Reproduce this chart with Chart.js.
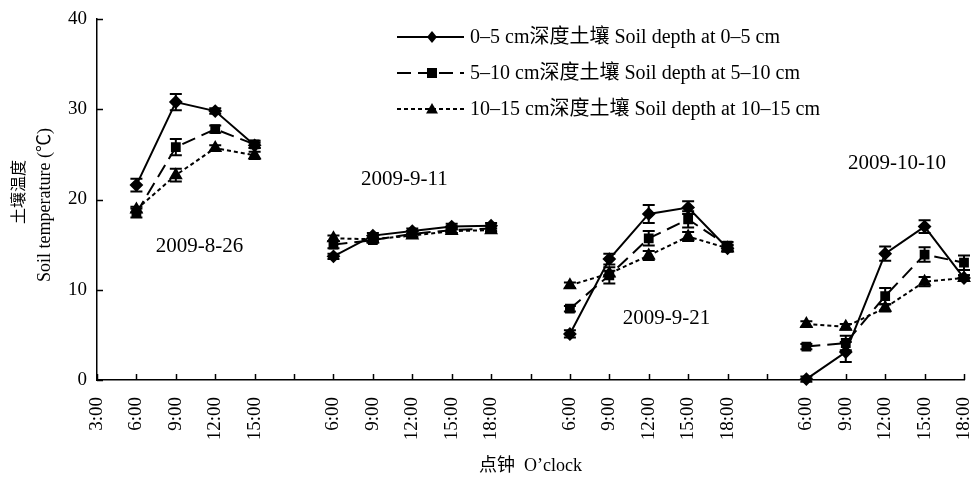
<!DOCTYPE html>
<html>
<head>
<meta charset="utf-8">
<script src="https://cdn.jsdelivr.net/npm/chart.js@4/dist/chart.umd.min.js"></script>
<style>
  body { margin: 0; background: #fff; }
  #wrap { width: 972px; height: 480px; }
</style>
</head>
<body>
<div id="wrap"><canvas id="grafica" width="972" height="480"></canvas></div>
<script>
// x categories, blanks separate the four sampling days
var horas = ['3:00', '6:00', '9:00', '12:00', '15:00', '',
    '6:00', '9:00', '12:00', '15:00', '18:00', '',
    '6:00', '9:00', '12:00', '15:00', '18:00', '',
    '6:00', '9:00', '12:00', '15:00', '18:00']

var fechas = ['2009-8-26', '2009-9-11', '2009-9-21', '2009-10-10']
var yTicks = [0, 10, 20, 30, 40]

var prof0a5 = [null, 21.6, 30.8, 29.8, 26.0, null, 13.7, 16.0, 16.5, 17.0, 17.1, null, 5.1, 13.4, 18.4, 19.1, 14.6, null, 0.1, 3.1, 14.0, 17.0, 11.3]
var err0a5 = [null, 0.7, 0.9, 0.3, 0.3, null, 0.3, 0.3, 0.3, 0.3, 0.3, null, 0.4, 0.6, 1.0, 0.7, 0.4, null, 0.3, 1.1, 0.8, 0.7, 0.3]

var prof5a10 = [null, 18.5, 25.8, 27.8, 26.1, null, 15.0, 15.5, 16.2, 16.6, 16.8, null, 7.9, 11.6, 15.7, 17.8, 14.9, null, 3.7, 4.1, 9.3, 13.9, 13.0]
var err5a10 = [null, 0.5, 0.9, 0.4, 0.4, null, 0.4, 0.3, 0.3, 0.3, 0.3, null, 0.3, 0.9, 0.8, 0.9, 0.4, null, 0.3, 0.8, 0.9, 0.8, 0.8]

var prof10a15 = [null, 18.9, 22.7, 25.7, 24.9, null, 15.7, 15.6, 16.0, 16.5, 16.6, null, 10.5, 11.8, 13.8, 15.9, 14.6, null, 6.2, 5.9, 8.0, 10.9, 11.3]
var err10a15 = [null, 0.3, 0.7, 0.3, 0.4, null, 0.3, 0.2, 0.2, 0.2, 0.2, null, 0.3, 0.3, 0.5, 0.5, 0.3, null, 0.3, 0.3, 0.4, 0.5, 0.3]

var nombresSeries = ['0–5 cm深度土壤 Soil depth at 0–5 cm', '5–10 cm深度土壤 Soil depth at 5–10 cm', '10–15 cm深度土壤 Soil depth at 10–15 cm']

var serif = "'Liberation Serif', 'Noto Sans CJK SC', serif"
var errores = [err0a5, err5a10, err10a15]

// where the day labels sit (category index, temperature)
var posFechas = [[2.6, 14.8], [7.8, 22.2], [14.45, 6.8], [20.3, 24.0]]

function marca(ctx, estilo, x, y) {
    ctx.beginPath()
    if (estilo == 'rectRot') {
        ctx.moveTo(x, y - 6); ctx.lineTo(x + 5, y); ctx.lineTo(x, y + 6); ctx.lineTo(x - 5, y)
    } else if (estilo == 'rect') {
        ctx.rect(x - 5, y - 5, 10, 10)
    } else {
        ctx.moveTo(x, y - 6); ctx.lineTo(x + 6, y + 4.5); ctx.lineTo(x - 6, y + 4.5)
    }
    ctx.closePath()
    ctx.fill()
}

var extras = {
    id: 'extras',
    afterDatasetsDraw: function (chart) {
        var ctx = chart.ctx
        var xs = chart.scales.x
        var ys = chart.scales.y
        var area = chart.chartArea
        ctx.save()
        ctx.strokeStyle = '#000'
        ctx.fillStyle = '#000'

        // error bars
        ctx.lineWidth = 2
        chart.data.datasets.forEach(function (ds, d) {
            ds.data.forEach(function (v, i) {
                if (v == null) return
                var x = xs.getPixelForValue(i)
                var y1 = ys.getPixelForValue(v + errores[d][i])
                var y2 = ys.getPixelForValue(v - errores[d][i])
                ctx.beginPath()
                ctx.moveTo(x, y1); ctx.lineTo(x, y2)
                ctx.moveTo(x - 6, y1); ctx.lineTo(x + 6, y1)
                ctx.moveTo(x - 6, y2); ctx.lineTo(x + 6, y2)
                ctx.stroke()
            })
        })

        // inward tick marks
        ctx.lineWidth = 1.5
        ctx.beginPath()
        for (var i = 0; i < horas.length; i++) {
            var tx = Math.round(xs.getPixelForValue(i)) + 0.5
            ctx.moveTo(tx, area.bottom); ctx.lineTo(tx, area.bottom - 6)
        }
        yTicks.forEach(function (t) {
            var ty = Math.round(ys.getPixelForValue(t)) + 0.5
            ctx.moveTo(area.left, ty); ctx.lineTo(area.left + 6, ty)
        })
        ctx.stroke()

        // day labels
        ctx.font = '21px ' + serif
        ctx.textAlign = 'center'
        ctx.textBaseline = 'middle'
        fechas.forEach(function (f, k) {
            ctx.fillText(f, xs.getPixelForValue(posFechas[k][0]), ys.getPixelForValue(posFechas[k][1]))
        })

        // legend
        var filas = [37, 73, 109]
        ctx.font = '20px ' + serif
        ctx.textAlign = 'left'
        chart.data.datasets.forEach(function (ds, d) {
            var y = filas[d]
            ctx.lineWidth = 2
            ctx.setLineDash(ds.borderDash || [])
            ctx.beginPath()
            ctx.moveTo(397, y); ctx.lineTo(464, y)
            ctx.stroke()
            ctx.setLineDash([])
            marca(ctx, ds.pointStyle, 432, y)
            ctx.fillText(nombresSeries[d], 470, y + 1)
        })

        // y axis title, two lines
        ctx.save()
        ctx.translate(18, 192)
        ctx.rotate(-Math.PI / 2)
        ctx.font = "16px 'Noto Sans CJK SC'"
        ctx.textAlign = 'center'
        ctx.fillText('土壤温度', 0, 0)
        ctx.restore()
        ctx.save()
        ctx.translate(45, 205)
        ctx.rotate(-Math.PI / 2)
        ctx.font = '18px ' + serif
        ctx.textAlign = 'center'
        ctx.fillText('Soil temperature (℃)', 0, 0)
        ctx.restore()

        ctx.restore()
    }
}

var data = {
    labels: horas,
    datasets: [{
        label: nombresSeries[0],
        data: prof0a5,
        borderColor: '#000',
        backgroundColor: '#000',
        borderWidth: 2,
        pointStyle: 'rectRot',
        pointRadius: 5.5
    }, {
        label: nombresSeries[1],
        data: prof5a10,
        borderColor: '#000',
        backgroundColor: '#000',
        borderWidth: 2,
        borderDash: [14, 7],
        pointStyle: 'rect',
        pointRadius: 5.5
    }, {
        label: nombresSeries[2],
        data: prof10a15,
        borderColor: '#000',
        backgroundColor: '#000',
        borderWidth: 2,
        borderDash: [4, 3],
        pointStyle: 'triangle',
        pointRadius: 6
    }]
}

new Chart(document.getElementById('grafica').getContext('2d'), {
    type: 'line',
    data: data,
    plugins: [extras],
    options: {
        responsive: false,
        animation: false,
        spanGaps: false,
        clip: false,
        layout: { padding: { left: 0, right: 7, top: 19, bottom: 0 } },
        plugins: { legend: { display: false }, tooltip: { enabled: false } },
        scales: {
            x: {
                offset: false,
                grid: { display: false, drawTicks: false },
                border: { color: '#000', width: 1.5 },
                ticks: {
                    autoSkip: false, maxRotation: 90, minRotation: 90, padding: 17,
                    color: '#000', font: { family: serif, size: 19 }
                },
                title: {
                    display: true, text: '点钟  O’clock', color: '#000',
                    font: { family: serif, size: 18 }, padding: { top: 0, bottom: 3 }
                },
                afterFit: function (s) { s.height = 100; s.paddingLeft = 0; s.paddingRight = 0 }
            },
            y: {
                min: 0, max: 40,
                afterBuildTicks: function (s) { s.ticks = yTicks.map(function (v) { return { value: v } }) },
                grid: { display: false, drawTicks: false },
                border: { color: '#000', width: 1.5 },
                ticks: { padding: 10, color: '#000', font: { family: serif, size: 19 } },
                afterFit: function (s) { s.width = 97; s.paddingTop = 0; s.paddingBottom = 0 }
            }
        }
    }
});
</script>
</body>
</html>
